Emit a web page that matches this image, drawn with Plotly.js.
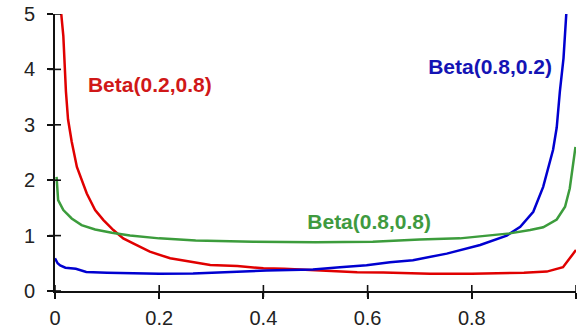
<!DOCTYPE html>
<html>
<head>
<meta charset="utf-8">
<script src="https://cdn.plot.ly/plotly-3.0.1.min.js"></script>
<style>html,body{margin:0;padding:0;background:#fff;}#chart{width:580px;height:330px;}</style>
</head>
<body>
<div id="chart"></div>
<script>
// Beta(0.2,0.8) — red
var redX = [0.005, 0.012, 0.016, 0.021, 0.025, 0.032, 0.042, 0.051, 0.061, 0.077, 0.093, 0.112, 0.131, 0.150, 0.182, 0.221, 0.259, 0.298, 0.35, 0.40, 0.44, 0.50, 0.58, 0.63, 0.72, 0.80, 0.86, 0.90, 0.944, 0.965, 0.975, 0.988, 0.995, 1.0];
var redY = [6.2, 5.0, 4.6, 3.6, 3.1, 2.7, 2.24, 2.0, 1.76, 1.46, 1.28, 1.10, 0.95, 0.86, 0.71, 0.59, 0.53, 0.47, 0.45, 0.41, 0.40, 0.375, 0.34, 0.335, 0.31, 0.31, 0.32, 0.33, 0.35, 0.40, 0.43, 0.59, 0.68, 0.74];

// Beta(0.8,0.2) — blue
var blueX = [0.0, 0.005, 0.01, 0.02, 0.04, 0.06, 0.10, 0.13, 0.15, 0.20, 0.265, 0.30, 0.35, 0.406, 0.45, 0.495, 0.547, 0.598, 0.643, 0.687, 0.752, 0.816, 0.867, 0.893, 0.918, 0.937, 0.956, 0.963, 0.969, 0.976, 0.982, 0.99];
var blueY = [0.59, 0.50, 0.46, 0.42, 0.40, 0.345, 0.33, 0.32, 0.315, 0.31, 0.315, 0.33, 0.345, 0.37, 0.38, 0.39, 0.43, 0.465, 0.52, 0.555, 0.675, 0.83, 1.0, 1.16, 1.43, 1.88, 2.55, 2.95, 3.6, 4.2, 5.1, 7.5];

// Beta(0.8,0.8) — green
var greenX = [0.003, 0.006, 0.016, 0.032, 0.051, 0.077, 0.109, 0.144, 0.20, 0.27, 0.38, 0.50, 0.61, 0.70, 0.777, 0.835, 0.873, 0.912, 0.937, 0.963, 0.979, 0.988, 0.995, 0.999];
var greenY = [2.06, 1.64, 1.46, 1.31, 1.19, 1.11, 1.05, 1.0, 0.95, 0.91, 0.89, 0.88, 0.89, 0.93, 0.95, 1.0, 1.04, 1.10, 1.15, 1.29, 1.52, 1.85, 2.4, 2.6];

var seriesNames = ['Beta(0.2,0.8)', 'Beta(0.8,0.2)', 'Beta(0.8,0.8)'];
var labelX = [0.182, 0.835, 0.603];
var labelY = [3.68, 4.01, 1.22];
var xTickVals = [0, 0.2, 0.4, 0.6, 0.8, 1];
var yTickVals = [0, 1, 2, 3, 4, 5];

var lineColors = ['#e00000', '#0000d0', '#3c9c3c'];
var textColors = ['#d01818', '#1414b4', '#3f9a3f'];
var axisColor = '#111111';

// page geometry (pixels)
var W = 580, H = 330, plotL = 55, plotR = 576, plotT = 14, plotB = 291, tickHalf = 6;
var xMin = xTickVals[0], xMax = xTickVals[xTickVals.length - 1];
var yMin = yTickVals[0], yMax = yTickVals[yTickVals.length - 1];

var data = [
  {x: redX, y: redY, mode: 'lines', line: {color: lineColors[0], width: 2.5}},
  {x: blueX, y: blueY, mode: 'lines', line: {color: lineColors[1], width: 2.5}},
  {x: greenX, y: greenY, mode: 'lines', line: {color: lineColors[2], width: 2.5}}
];
// series labels
seriesNames.forEach(function (n, i) {
  data.push({x: [labelX[i]], y: [labelY[i]], text: [n], mode: 'text', textposition: 'middle center',
    textfont: {family: 'Liberation Sans, Arial, sans-serif', size: 21, color: textColors[i], weight: 'bold'}});
});

// crossing tick marks
var shapes = [];
xTickVals.forEach(function (v) {
  shapes.push({type: 'line', xref: 'x', yref: 'paper', x0: v, x1: v,
    y0: (H - plotB - tickHalf) / H, y1: (H - plotB + tickHalf) / H, line: {color: axisColor, width: 1.6}});
});
yTickVals.forEach(function (v) {
  shapes.push({type: 'line', xref: 'paper', yref: 'y', y0: v, y1: v,
    x0: (plotL - tickHalf) / W, x1: (plotL + tickHalf) / W, line: {color: axisColor, width: 1.6}});
});

var tickFont = {family: 'Liberation Sans, Arial, sans-serif', size: 20, color: '#222222'};

var layout = {
  width: W, height: H,
  margin: {l: 0, r: 0, t: 0, b: 0, pad: 0},
  paper_bgcolor: '#ffffff', plot_bgcolor: 'rgba(0,0,0,0)',
  showlegend: false,
  xaxis: {domain: [plotL / W, plotR / W], anchor: 'y', range: [xMin, xMax], showgrid: false, zeroline: false,
    showline: true, linecolor: axisColor, linewidth: 1.6, ticks: 'outside', ticklen: tickHalf, tickwidth: 1.6,
    tickcolor: axisColor, tickvals: xTickVals, tickfont: tickFont, ticklabelstandoff: 2},
  yaxis: {domain: [1 - plotB / H, 1 - plotT / H], anchor: 'x', range: [yMin, yMax], showgrid: false, zeroline: false,
    showline: true, linecolor: axisColor, linewidth: 1.6, ticks: 'outside', ticklen: tickHalf, tickwidth: 1.6,
    tickcolor: axisColor, tickvals: yTickVals, tickfont: tickFont, ticklabelstandoff: 8},
  shapes: shapes
};
Plotly.newPlot('chart', data, layout, {displayModeBar: false});
</script>
</body>
</html>
